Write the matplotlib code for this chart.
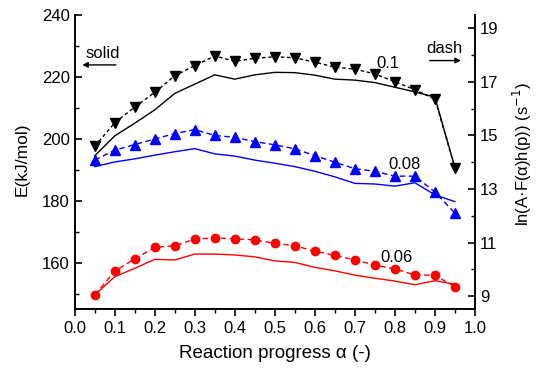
import matplotlib
matplotlib.use("Agg")
import matplotlib.pyplot as plt
from matplotlib.ticker import MultipleLocator, FixedLocator, FormatStrFormatter

plt.rcParams['font.family'] = ['Liberation Sans', 'DejaVu Sans']

alpha = [0.05, 0.10, 0.15, 0.20, 0.25, 0.30, 0.35, 0.40, 0.45, 0.50,
         0.55, 0.60, 0.65, 0.70, 0.75, 0.80, 0.85, 0.90, 0.95]

# Activation energy (solid lines, left axis)
E_01 = [194.6, 201.0, 205.1, 209.4, 214.7, 217.7, 220.7, 219.3, 220.7, 221.5,
        221.4, 220.6, 219.3, 219.0, 218.2, 216.7, 215.2, 213.5, 190.8]
E_008 = [191.1, 192.6, 193.6, 194.8, 195.9, 196.9, 195.2, 194.5, 193.2, 192.2,
         191.1, 189.6, 187.8, 185.7, 185.5, 184.8, 185.9, 182.0, 179.8]
E_006 = [149.7, 155.6, 158.3, 161.2, 161.0, 162.9, 162.9, 162.6, 162.0, 160.7,
         160.2, 158.6, 157.5, 156.1, 155.1, 154.2, 153.0, 154.3, 153.2]

# ln(A F h) (dashed lines with markers, right axis)
lnA_01 = [14.60, 15.47, 16.06, 16.61, 17.23, 17.61, 17.97, 17.77, 17.88, 17.94,
          17.90, 17.74, 17.55, 17.48, 17.30, 17.01, 16.71, 16.36, 13.80]
lnA_008 = [14.08, 14.45, 14.66, 14.87, 15.07, 15.22, 15.00, 14.93, 14.77, 14.65,
           14.50, 14.25, 14.00, 13.76, 13.66, 13.48, 13.48, 12.89, 12.10]
lnA_006 = [9.05, 9.93, 10.39, 10.82, 10.88, 11.13, 11.17, 11.14, 11.10, 10.97,
           10.88, 10.68, 10.52, 10.35, 10.16, 10.01, 9.79, 9.78, 9.35]

labels = ["0.1", "0.08", "0.06"]
right_ticks = [9, 11, 13, 15, 17, 19]

fig = plt.figure(figsize=(5.36, 3.70), dpi=100)
ax = fig.add_axes([0.1394, 0.165, 0.7466, 0.7945])
ax2 = ax.twinx()

ax.plot(alpha, E_01, color='black', lw=1.0)
ax.plot(alpha, E_008, color='blue', lw=1.0)
ax.plot(alpha, E_006, color='red', lw=1.0)

ax2.plot(alpha, lnA_01, color='black', lw=1.0, ls=(0, (2.5, 2)), marker='v', ms=7)
ax2.plot(alpha, lnA_008, color='blue', lw=1.0, ls=(0, (4, 2.5)), marker='^', ms=7)
ax2.plot(alpha, lnA_006, color='red', lw=1.0, ls=(0, (4, 2.5)), marker='o', ms=6)

ax.set_xlim(0, 1.0)
ax.set_ylim(145.2, 240)
ax2.set_ylim(8.52, 19.5)

ax.xaxis.set_major_locator(MultipleLocator(0.1))
ax.xaxis.set_minor_locator(MultipleLocator(0.05))
ax.xaxis.set_major_formatter(FormatStrFormatter('%.1f'))
ax.yaxis.set_major_locator(MultipleLocator(20))
ax.yaxis.set_minor_locator(MultipleLocator(10))
ax2.yaxis.set_major_locator(FixedLocator(right_ticks))
ax2.yaxis.set_minor_locator(MultipleLocator(1))

for a in (ax, ax2):
    a.spines['top'].set_visible(False)
    for s in ('left', 'right', 'bottom'):
        a.spines[s].set_linewidth(1.2)

ax.tick_params(axis='x', which='major', direction='out', length=5, width=1.2, labelsize=12)
ax.tick_params(axis='x', which='minor', direction='out', length=3, width=1.0)
ax.tick_params(axis='y', which='major', direction='in', length=5, width=1.2, labelsize=12)
ax.tick_params(axis='y', which='minor', direction='in', length=3, width=1.0)
ax2.tick_params(axis='y', which='major', direction='in', length=5, width=1.2, labelsize=12)
ax2.tick_params(axis='y', which='minor', direction='in', length=3, width=1.0)

ax.set_xlabel('Reaction progress α (-)', fontsize=13.5, labelpad=7)
ax.set_ylabel('E(kJ/mol)', fontsize=12.5)
ax.yaxis.set_label_coords(-0.112, 0.51)
ax2.set_ylabel('ln(A·F(α)h(p)) (s$^{-1}$)', fontsize=12)
ax2.yaxis.set_label_coords(1.09, 0.527)

ax.text(0.755, 222.9, labels[0], fontsize=12)
ax.text(0.784, 190.3, labels[1], fontsize=12)
ax.text(0.765, 160.4, labels[2], fontsize=12)

ax.text(0.028, 226.1, 'solid', fontsize=12)
ax.annotate('', xy=(0.012, 223.9), xytext=(0.11, 223.9),
            arrowprops=dict(arrowstyle='-|>', color='black', lw=1, mutation_scale=8))
ax.text(0.878, 227.6, 'dash', fontsize=12)
ax.annotate('', xy=(0.972, 225.3), xytext=(0.88, 225.3),
            arrowprops=dict(arrowstyle='-|>', color='black', lw=1, mutation_scale=8))

fig.savefig('out.png', dpi=100)
